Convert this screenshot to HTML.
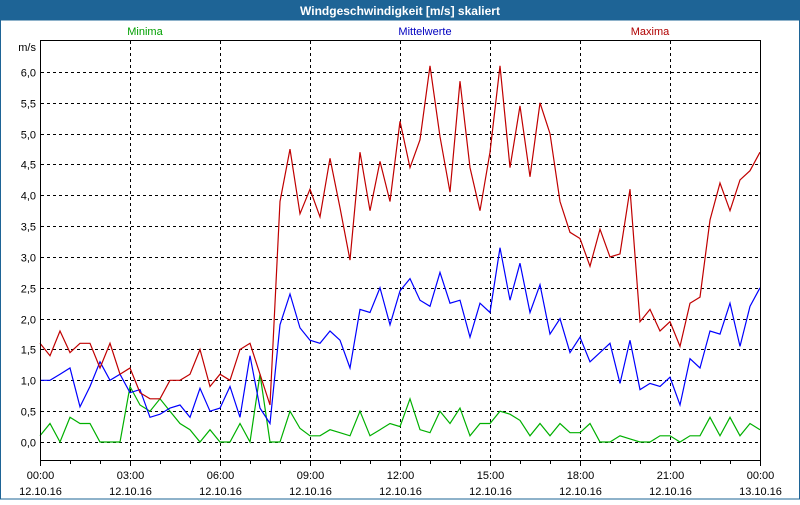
<!DOCTYPE html>
<html><head><meta charset="utf-8"><style>
body{margin:0;width:800px;height:500px;overflow:hidden;background:#fff;font-family:"Liberation Sans",sans-serif;}
</style></head><body>
<svg id="chart" width="800" height="500" xmlns="http://www.w3.org/2000/svg" font-family="Liberation Sans, sans-serif" font-size="11">
<rect x="0" y="0" width="800" height="500" fill="#fff"/>
<rect x="0" y="0" width="800" height="20" fill="#1e6496"/>
<text x="400" y="15" text-anchor="middle" fill="#fff" font-weight="bold" font-size="12">Windgeschwindigkeit [m/s] skaliert</text>
<rect x="0.5" y="20" width="799" height="479" fill="none" stroke="#1e6496"/>
<text x="145" y="35" text-anchor="middle" fill="#00a000">Minima</text>
<text x="425" y="35" text-anchor="middle" fill="#0000c0">Mittelwerte</text>
<text x="650" y="35" text-anchor="middle" fill="#b00000">Maxima</text>
<text x="36" y="51" text-anchor="end" fill="#000">m/s</text>
<g id="grid"></g>
<g id="series"></g>
<rect x="40.5" y="40.5" width="720" height="420" fill="none" stroke="#000"/>
<g id="axes"></g>
</svg>
<script>
const times=[];for(let i=0;i<=72;i++)times.push(i/3);
const maxima=[1.6,1.4,1.8,1.45,1.6,1.6,1.2,1.6,1.1,1.2,0.8,0.7,0.7,1.0,1.0,1.1,1.5,0.9,1.1,1.0,1.5,1.6,1.1,0.6,3.9,4.75,3.7,4.1,3.65,4.6,3.8,2.95,4.7,3.75,4.55,3.9,5.2,4.45,4.9,6.1,4.95,4.05,5.85,4.45,3.75,4.7,6.1,4.45,5.45,4.3,5.5,5.0,3.9,3.4,3.3,2.85,3.45,3.0,3.05,4.1,1.95,2.15,1.8,1.95,1.55,2.25,2.35,3.6,4.2,3.75,4.25,4.4,4.7];
const mittel=[1.0,1.0,1.1,1.2,0.57,0.9,1.3,1.0,1.1,0.8,0.85,0.4,0.45,0.55,0.6,0.4,0.87,0.5,0.55,0.9,0.4,1.4,0.55,0.3,1.9,2.4,1.85,1.65,1.6,1.8,1.65,1.2,2.15,2.1,2.5,1.9,2.45,2.65,2.3,2.2,2.75,2.25,2.3,1.7,2.25,2.1,3.15,2.3,2.9,2.1,2.55,1.75,2.0,1.45,1.7,1.3,1.45,1.6,0.95,1.65,0.85,0.95,0.9,1.05,0.6,1.35,1.2,1.8,1.75,2.25,1.55,2.2,2.5];
const minima=[0.1,0.3,0.0,0.4,0.3,0.3,0.0,0.0,0.0,0.9,0.6,0.5,0.7,0.5,0.3,0.2,0.0,0.2,0.0,0.0,0.3,0.0,1.1,0.0,0.0,0.5,0.22,0.1,0.1,0.2,0.15,0.1,0.5,0.1,0.2,0.3,0.25,0.7,0.2,0.15,0.5,0.3,0.55,0.1,0.3,0.3,0.5,0.45,0.35,0.1,0.3,0.1,0.3,0.15,0.15,0.3,0.0,0.0,0.1,0.05,0.0,0.0,0.1,0.1,0.0,0.1,0.1,0.4,0.1,0.4,0.1,0.3,0.2];
const yTicks=["0,0","0,5","1,0","1,5","2,0","2,5","3,0","3,5","4,0","4,5","5,0","5,5","6,0"];
const xTickLabels=["00:00","03:00","06:00","09:00","12:00","15:00","18:00","21:00","00:00"];
const xDateLabels=["12.10.16","12.10.16","12.10.16","12.10.16","12.10.16","12.10.16","12.10.16","12.10.16","13.10.16"];
const NS="http://www.w3.org/2000/svg";
const xs=h=>40+h*30;
const ys=v=>442-v*61.67;
const grid=document.getElementById('grid'),axes=document.getElementById('axes'),ser=document.getElementById('series');
function mk(tag,attrs,parent){const e=document.createElementNS(NS,tag);for(const k in attrs)e.setAttribute(k,attrs[k]);parent.appendChild(e);return e;}
yTicks.forEach((t,i)=>{const y=Math.round(ys(i*0.5))+0.5;
 const l=mk('line',{x1:41,x2:760,y1:y,y2:y,stroke:'#000','stroke-dasharray':'3,3'},grid);
 
 
 const tx=mk('text',{x:36,y:y+4,'text-anchor':'end',fill:'#000'},axes);tx.textContent=t;
 
 
});
xTickLabels.forEach((t,i)=>{const x=xs(i*3)+0.5;
 if(i>0&&i<8){const l=mk('line',{x1:x,x2:x,y1:41,y2:460,stroke:'#000','stroke-dasharray':'3,3'},grid);
 
 }
 const tx=mk('text',{x:x,y:479,'text-anchor':'middle',fill:'#000'},axes);tx.textContent=t;
 
 
 const d=mk('text',{x:x,y:495,'text-anchor':'middle',fill:'#000'},axes);d.textContent=xDateLabels[i];
 
 
});
for(let h=0;h<=24;h++){const x=xs(h)+0.5;const l=mk('line',{x1:x,x2:x,y1:460,y2:h%3==0?466:464,stroke:'#000'},axes);
 
 }
function line(arr,color,name){const p=arr.map((v,i)=>xs(times[i]).toFixed(1)+','+ys(v).toFixed(1)).join(' ');
 const e=mk('polyline',{points:p,fill:'none',stroke:color,'stroke-width':1.2},ser);
 
 }
line(minima,'#00b000','minima-line');
line(mittel,'#0000ff','mittelwerte-line');
line(maxima,'#c00000','maxima-line');
</script>
</body></html>
